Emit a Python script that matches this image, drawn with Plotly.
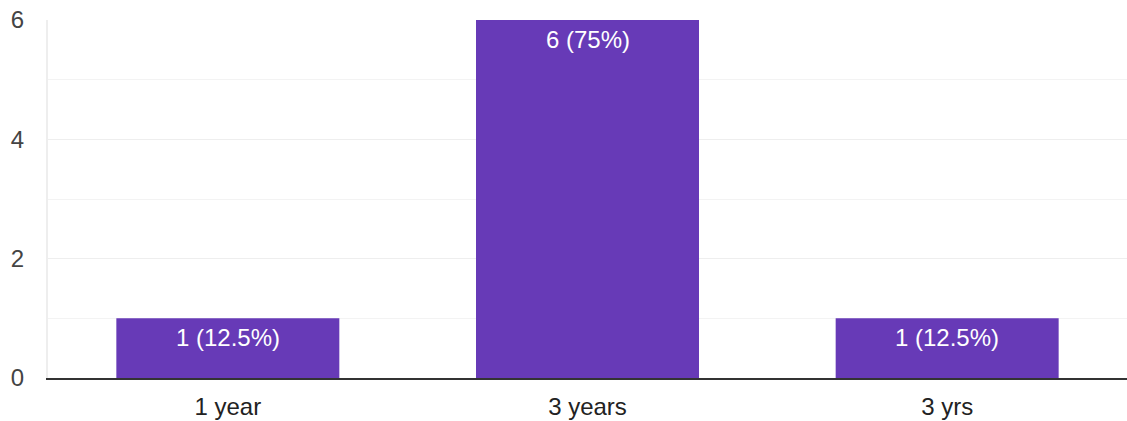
import plotly.graph_objects as go

categories = ["1 year", "3 years", "3 yrs"]
counts = [1, 6, 1]
labels = ["1 (12.5%)", "6 (75%)", "1 (12.5%)"]
y_ticks = [0, 2, 4, 6]

FONT = "Liberation Sans, Arial, sans-serif"

fig = go.Figure()
fig.add_trace(go.Bar(
    x=categories, y=counts,
    marker=dict(color="#673AB7", line=dict(width=0)),
    hoverinfo="skip",
))
for c, v, t in zip(categories, counts, labels):
    fig.add_annotation(
        x=c, y=v, text=t, showarrow=False, yanchor="top", yshift=-4,
        font=dict(color="white", size=24, family=FONT),
    )
fig.update_layout(
    width=1127, height=421,
    margin=dict(l=48, r=0, t=20, b=43),
    plot_bgcolor="white", paper_bgcolor="white",
    bargap=0.38, showlegend=False,
    font=dict(family=FONT, size=24, color="#444"),
)
fig.update_xaxes(
    showgrid=False, showline=True, linecolor="#333", linewidth=2,
    ticks="outside", ticklen=6, tickcolor="rgba(0,0,0,0)",
    tickfont=dict(size=24, color="#222", family=FONT),
)
fig.update_yaxes(
    range=[0, 6], tickvals=y_ticks, showgrid=True, gridcolor="#eeeeee", gridwidth=1,
    minor=dict(dtick=1, showgrid=True, gridcolor="#f3f3f3", gridwidth=1),
    showline=True, linecolor="#eeeeee", linewidth=2,
    zeroline=False, ticks="outside", ticklen=17, tickcolor="rgba(0,0,0,0)",
    tickfont=dict(size=24, color="#444", family=FONT),
)
fig.write_html("out.html", config={"displayModeBar": False},
               post_script="document.body.style.margin='0';")
